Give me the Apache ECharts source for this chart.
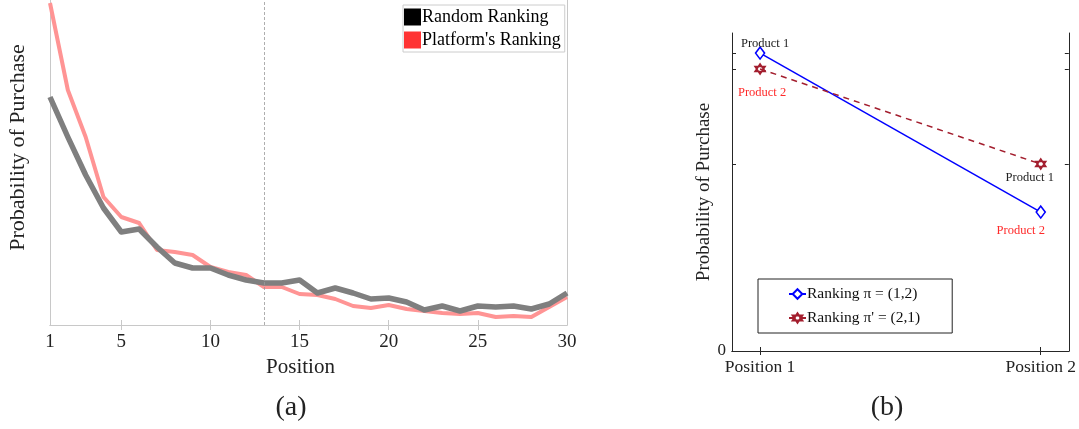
<!DOCTYPE html>
<html>
<head>
<meta charset="utf-8">
<script src="https://cdn.jsdelivr.net/npm/echarts@6/dist/echarts.min.js"></script>
<style>
html,body{margin:0;padding:0;background:#fff;}
#chart{width:1079px;height:429px;}
</style>
</head>
<body>
<div id="chart"></div>
<script>
// ---- Panel (a) data ----
const positions = [1,2,3,4,5,6,7,8,9,10,11,12,13,14,15,16,17,18,19,20,21,22,23,24,25,26,27,28,29,30];
const randomRanking = [0.228,0.188,0.150,0.117,0.093,0.096,0.078,0.062,0.057,0.057,0.050,0.045,0.042,0.042,0.045,0.032,0.037,0.032,0.026,0.027,0.023,0.015,0.019,0.014,0.019,0.018,0.019,0.016,0.021,0.032];
const platformRanking = [0.322,0.235,0.188,0.128,0.108,0.102,0.075,0.073,0.070,0.058,0.053,0.050,0.038,0.038,0.031,0.030,0.026,0.019,0.017,0.020,0.016,0.014,0.012,0.011,0.012,0.008,0.009,0.008,0.018,0.028];
const xTickLabelsA = [1,5,10,15,20,25,30];
const xTicksA = [5,10,15,20,25];
const cutoffPosition = 13;
const seriesNamesA = ['Random Ranking', "Platform's Ranking"];

// ---- Panel (b) data ----
const positionsB = [1, 2];
const positionLabelsB = ['Position 1', 'Position 2'];
const rankingPi = [0.937, 0.437];        // pi = (1,2)
const rankingPiPrime = [0.887, 0.588];   // pi' = (2,1)
const productLabelsPi = ['Product 1', 'Product 2'];
const productLabelsPiPrime = ['Product 2', 'Product 1'];
const yTicksB = [0.588, 0.887, 0.937];
const seriesNamesB = ['Ranking π = (1,2)', "Ranking π' = (2,1)"];

const SERIF = "Liberation Serif";
const hexagram = 'path://M0,-10L8.66,5L-8.66,5Z M0,10L8.66,-5L-8.66,-5Z';
const productColor = {'Product 1': '#222222', 'Product 2': '#ff2a2a'};

const chart = echarts.init(document.getElementById('chart'), null, {renderer: 'canvas'});

const frameA = '#c8c8c8';
const frameB = '#262626';

function labelItem(x, y, text, off) {
  return {
    value: [x, y],
    label: {
      show: true, position: 'inside', offset: off, formatter: text,
      color: productColor[text], fontFamily: SERIF, fontSize: 12.5
    }
  };
}

const option = {
  animation: false,
  backgroundColor: '#ffffff',
  grid: [
    {left: 50, top: 0, width: 517, height: 325, containLabel: false},
    {left: 732, top: 33, width: 339, height: 318, containLabel: false}
  ],
  legend: [
    {
      selectedMode: false,
      orient: 'vertical', left: 403, top: 5,
      padding: [3, 4, 3, 1], itemGap: 5, itemWidth: 17, itemHeight: 17,
      borderColor: '#cccccc', borderWidth: 1, backgroundColor: '#ffffff',
      textStyle: {fontFamily: SERIF, fontSize: 18, color: '#000', padding: [0,0,0,-4]},
      data: [
        {name: seriesNamesA[0], icon: 'rect', itemStyle: {color: '#000000'}},
        {name: seriesNamesA[1], icon: 'rect', itemStyle: {color: '#ff3333'}}
      ]
    },
    {
      selectedMode: false,
      orient: 'vertical', left: 758, top: 279,
      padding: [7, 32, 7, 30], itemGap: 8, itemWidth: 17, itemHeight: 12,
      borderColor: '#222222', borderWidth: 1, backgroundColor: '#ffffff',
      textStyle: {fontFamily: SERIF, fontSize: 15.5, color: '#111', padding: [0,0,0,-4]},
      data: seriesNamesB
    }
  ],
  xAxis: [
    {
      gridIndex: 0, type: 'value', min: 1, max: 30, position: 'bottom',
      name: 'Position', nameLocation: 'middle', nameGap: 32,
      nameTextStyle: {fontFamily: SERIF, fontSize: 21, color: '#222', padding: [0, 16, 0, 0]},
      axisLine: {show: true, lineStyle: {color: frameA, width: 1}},
      axisTick: {show: true, inside: true, length: 5, customValues: xTicksA, lineStyle: {color: frameA}},
      axisLabel: {show: true, customValues: xTickLabelsA, margin: 8, fontFamily: SERIF, fontSize: 19, color: '#222'},
      splitLine: {show: false}
    },
    {
      gridIndex: 0, type: 'value', min: 1, max: 30, position: 'top',
      axisLine: {show: true, lineStyle: {color: frameA, width: 1}},
      axisTick: {show: true, inside: true, length: 5, customValues: xTicksA, lineStyle: {color: frameA}},
      axisLabel: {show: false}, splitLine: {show: false}
    },
    {
      gridIndex: 1, type: 'value', min: 0.9, max: 2.1, position: 'bottom',
      axisLine: {show: true, lineStyle: {color: frameB, width: 1}},
      axisTick: {show: true, inside: true, length: 4, customValues: positionsB, lineStyle: {color: frameB}},
      axisLabel: {show: true, customValues: positionsB, margin: 7, fontFamily: SERIF, fontSize: 17.5, color: '#222',
        formatter: function (v) { return positionLabelsB[positionsB.indexOf(Math.round(v))] || ''; }},
      splitLine: {show: false}
    },
    {
      gridIndex: 1, type: 'value', min: 0.9, max: 2.1, position: 'top',
      axisLine: {show: true, lineStyle: {color: frameB, width: 1}},
      axisTick: {show: true, inside: true, length: 4, customValues: positionsB, lineStyle: {color: frameB}},
      axisLabel: {show: false}, splitLine: {show: false}
    }
  ],
  yAxis: [
    {
      gridIndex: 0, type: 'value', min: 0, max: 0.325, position: 'left',
      name: 'Probability of Purchase', nameLocation: 'middle', nameGap: 21, nameRotate: 90,
      nameTextStyle: {fontFamily: SERIF, fontSize: 22, color: '#222', padding: [0, 0, 0, 30]},
      axisLine: {show: true, lineStyle: {color: frameA, width: 1}},
      axisTick: {show: false}, axisLabel: {show: false}, splitLine: {show: false}
    },
    {
      gridIndex: 0, type: 'value', min: 0, max: 0.325, position: 'right',
      axisLine: {show: true, lineStyle: {color: frameA, width: 1}},
      axisTick: {show: false}, axisLabel: {show: false}, splitLine: {show: false}
    },
    {
      gridIndex: 1, type: 'value', min: 0, max: 1, position: 'left',
      name: 'Probability of Purchase', nameLocation: 'middle', nameGap: 15, nameRotate: 90,
      nameTextStyle: {fontFamily: SERIF, fontSize: 19, color: '#222'},
      axisLine: {show: true, lineStyle: {color: frameB, width: 1}},
      axisTick: {show: true, inside: true, length: 4, customValues: yTicksB, lineStyle: {color: frameB}},
      axisLabel: {show: true, customValues: [0], margin: 6, fontFamily: SERIF, fontSize: 17, color: '#222'},
      splitLine: {show: false}
    },
    {
      gridIndex: 1, type: 'value', min: 0, max: 1, position: 'right',
      axisLine: {show: true, lineStyle: {color: frameB, width: 1}},
      axisTick: {show: true, inside: true, length: 4, customValues: yTicksB, lineStyle: {color: frameB}},
      axisLabel: {show: false}, splitLine: {show: false}
    }
  ],
  series: [
    {
      name: seriesNamesA[1], type: 'line', xAxisIndex: 0, yAxisIndex: 0,
      data: positions.map((p, i) => [p, platformRanking[i]]),
      showSymbol: false, symbol: 'none',
      lineStyle: {color: '#ff9494', width: 4, join: 'round'},
      itemStyle: {color: '#ff9494'}, z: 2
    },
    {
      name: seriesNamesA[0], type: 'line', xAxisIndex: 0, yAxisIndex: 0,
      data: positions.map((p, i) => [p, randomRanking[i]]),
      showSymbol: false, symbol: 'none',
      lineStyle: {color: '#7f7f7f', width: 5.5, join: 'round'},
      itemStyle: {color: '#7f7f7f'}, z: 3,
      markLine: {
        silent: true, symbol: ['none', 'none'],
        label: {show: false},
        lineStyle: {color: '#999999', type: [3, 2], width: 0.8},
        data: [{xAxis: cutoffPosition}]
      }
    },
    {
      name: seriesNamesB[0], type: 'line', xAxisIndex: 2, yAxisIndex: 2,
      data: [
        labelItem(positionsB[0], rankingPi[0], productLabelsPi[0], [5, -9]),
        labelItem(positionsB[1], rankingPi[1], productLabelsPi[1], [-20, 19])
      ],
      symbol: 'diamond', symbolSize: [9, 12], showSymbol: true,
      lineStyle: {color: '#0000ff', width: 1.5},
      itemStyle: {color: '#ffffff', borderColor: '#0000ff', borderWidth: 1.6},
      z: 4
    },
    {
      name: seriesNamesB[1], type: 'line', xAxisIndex: 2, yAxisIndex: 2,
      data: [
        labelItem(positionsB[0], rankingPiPrime[0], productLabelsPiPrime[0], [2, 24]),
        labelItem(positionsB[1], rankingPiPrime[1], productLabelsPiPrime[1], [-11, 14])
      ],
      symbol: hexagram, symbolSize: 10, showSymbol: true,
      lineStyle: {color: '#a31e2e', width: 1.5, type: [6, 5]},
      itemStyle: {color: '#ffffff', borderColor: '#a31e2e', borderWidth: 1.6},
      z: 4
    }
  ],
  graphic: [
    {type: 'text', x: 291, y: 408, style: {text: '(a)', fontFamily: SERIF, fontSize: 28, fill: '#222', align: 'center', verticalAlign: 'middle'}},
    {type: 'text', x: 887, y: 408, style: {text: '(b)', fontFamily: SERIF, fontSize: 28, fill: '#222', align: 'center', verticalAlign: 'middle'}}
  ]
};
chart.setOption(option);
</script>
</body>
</html>
